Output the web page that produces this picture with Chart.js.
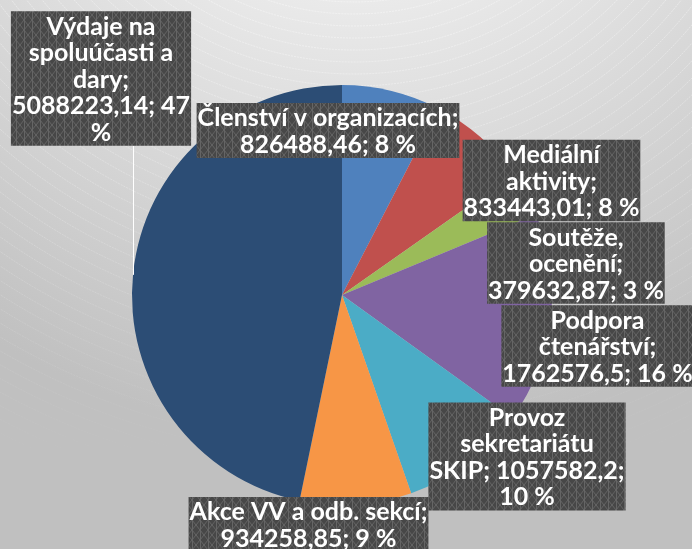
<!DOCTYPE html>
<html>
<head>
<meta charset="utf-8">
<script src="https://cdn.jsdelivr.net/npm/chart.js@4"></script>
<style>
    body { margin: 0; background: #c0c0c0; }
    canvas { display: block; }
</style>
</head>
<body>
<canvas id="pieChart" width="692" height="549"></canvas>
<script>
const categories = [
    "Členství v organizacích",
    "Mediální aktivity",
    "Soutěže, ocenění",
    "Podpora čtenářství",
    "Provoz sekretariátu SKIP",
    "Akce VV a odb. sekcí",
    "Výdaje na spoluúčasti a dary"
];
const values = [826488.46, 833443.01, 379632.87, 1762576.5, 1057582.2, 934258.85, 5088223.14];
const percents = [8, 8, 3, 16, 10, 9, 47];

// wrapped label text, as shown in the picture
const labelLines = [
    ["Členství v organizacích;", "826488,46; 8 %"],
    ["Mediální", "aktivity;", "833443,01; 8 %"],
    ["Soutěže,", "ocenění;", "379632,87; 3 %"],
    ["Podpora", "čtenářství;", "1762576,5; 16 %"],
    ["Provoz", "sekretariátu", "SKIP; 1057582,2;", "10 %"],
    ["Akce VV a odb. sekcí;", "934258,85; 9 %"],
    ["Výdaje na", "spoluúčasti a", "dary;", "5088223,14; 47", "%"]
];

const sliceColors = ["#4f81bd", "#c0504d", "#9bbb59", "#8064a2", "#4bacc6", "#f79646", "#2c4d75"];

// label centre relative to pie centre (px)
const labelOffsets = [[-14, -164.5], [209.5, -114.5], [234, -32], [255.5, 51], [185, 161.5], [-33.5, 229.5], [-241, -216.5]];
const leaderIndex = 6;
const leaderAngle = -84.5; // degrees from 12 o'clock

function makeTile() {
    const t = document.createElement("canvas");
    t.width = 8;
    t.height = 10;
    const c = t.getContext("2d");
    c.fillStyle = "#474747";
    c.fillRect(0, 0, 8, 10);
    c.strokeStyle = "#656565";
    c.lineWidth = 1;
    c.beginPath();
    c.moveTo(0, 0); c.lineTo(8, 10);
    c.moveTo(8, 0); c.lineTo(0, 10);
    c.moveTo(0.5, 0); c.lineTo(0.5, 10);
    c.stroke();
    return t;
}

const backgroundPlugin = {
    id: "background",
    beforeDraw(chart) {
        const ctx = chart.ctx;
        const w = chart.width, h = chart.height;
        ctx.save();
        const g = ctx.createRadialGradient(354, -260, 250, 354, -260, 700);
        g.addColorStop(0, "#ebebeb");
        g.addColorStop(1, "#c0c0c0");
        ctx.fillStyle = g;
        ctx.fillRect(0, 0, w, h);

        const lg = ctx.createLinearGradient(0, 0, 0, 460);
        lg.addColorStop(0, "rgba(255,255,255,0.4)");
        lg.addColorStop(1, "rgba(255,255,255,0)");
        ctx.strokeStyle = lg;
        ctx.lineWidth = 1;
        ctx.setLineDash([2, 1]);
        for (let r = 262; r < 900; r += 12) {
            ctx.beginPath();
            ctx.arc(354, -260, r, 0, Math.PI);
            ctx.stroke();
        }
        ctx.restore();
    }
};

const labelPlugin = {
    id: "boxLabels",
    afterDatasetsDraw(chart) {
        const ctx = chart.ctx;
        const meta = chart.getDatasetMeta(0);
        const pattern = ctx.createPattern(makeTile(), "repeat");
        const lineH = 26.5;

        ctx.save();
        ctx.font = "bold 25px Lato";
        ctx.textAlign = "center";
        ctx.textBaseline = "middle";

        meta.data.forEach((arc, i) => {
            const cx = arc.x + labelOffsets[i][0];
            const cy = arc.y + labelOffsets[i][1];
            const lines = labelLines[i];
            const width = Math.max(...lines.map(l => ctx.measureText(l).width)) + 2;
            const height = lines.length * lineH + 2;
            const top = cy - height / 2;

            if (i === leaderIndex) {
                const a = leaderAngle * Math.PI / 180;
                const px = arc.x + arc.outerRadius * Math.sin(a);
                const py = arc.y - arc.outerRadius * Math.cos(a);
                ctx.strokeStyle = "#ffffff";
                ctx.lineWidth = 1;
                ctx.beginPath();
                ctx.moveTo(Math.round(px) + 0.5, top + height);
                ctx.lineTo(Math.round(px) + 0.5, py);
                ctx.stroke();
            }

            ctx.fillStyle = pattern;
            ctx.fillRect(cx - width / 2, top, width, height);

            ctx.fillStyle = "#ffffff";
            lines.forEach((line, k) => {
                ctx.fillText(line, cx, top + 2 + lineH * (k + 0.5));
            });
        });
        ctx.restore();
    }
};

new Chart(document.getElementById("pieChart"), {
    type: "pie",
    data: {
        labels: categories,
        datasets: [
            {
                data: values,
                backgroundColor: sliceColors,
                borderWidth: 0
            }
        ]
    },
    options: {
        responsive: false,
        animation: false,
        layout: {
            padding: { left: 100, right: 108, top: 85, bottom: 44 }
        },
        plugins: {
            legend: { display: false },
            tooltip: { enabled: false }
        }
    },
    plugins: [backgroundPlugin, labelPlugin]
});
</script>
</body>
</html>
